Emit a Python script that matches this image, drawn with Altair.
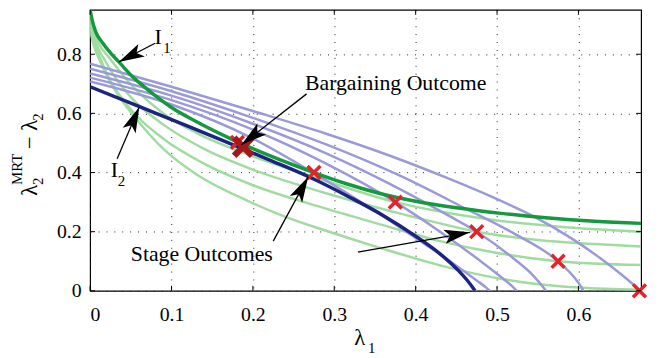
import math
import altair as alt
import pandas as pd

# ---------------- axes ----------------
x_ticks = [0, 0.1, 0.2, 0.3, 0.4, 0.5, 0.6]
y_ticks = [0, 0.2, 0.4, 0.6, 0.8]
X_MAX = 0.677
Y_MAX = 0.95
W, H = 557, 284
SX, SY = W / X_MAX, H / Y_MAX

# ---------------- curves ----------------
# I1 : thick green indifference curve
i1_x = [0, 0.003, 0.007, 0.015, 0.025, 0.035, 0.05, 0.063, 0.08, 0.1, 0.132, 0.173, 0.22, 0.27, 0.315, 0.355, 0.4, 0.45, 0.505, 0.56, 0.62, 0.677]
i1_y = [0.95, 0.91, 0.875, 0.84, 0.805, 0.775, 0.73, 0.698, 0.66, 0.62, 0.57, 0.514, 0.458, 0.405, 0.362, 0.33, 0.303, 0.281, 0.262, 0.247, 0.235, 0.228]

# light green curves
ga_x = [0, 0.005, 0.012, 0.023, 0.04, 0.06, 0.09, 0.13, 0.2, 0.275, 0.375, 0.43, 0.5, 0.58, 0.677]
ga_y = [0.93, 0.88, 0.83, 0.79, 0.73, 0.67, 0.6, 0.535, 0.455, 0.385, 0.3, 0.268, 0.238, 0.216, 0.2]
gb_x = [0, 0.004, 0.01, 0.018, 0.03, 0.05, 0.09, 0.14, 0.2, 0.29, 0.38, 0.43, 0.475, 0.55, 0.62, 0.677]
gb_y = [0.915, 0.87, 0.82, 0.78, 0.725, 0.655, 0.562, 0.48, 0.41, 0.33, 0.262, 0.228, 0.2, 0.172, 0.158, 0.15]
gc_x = [0, 0.004, 0.009, 0.015, 0.025, 0.045, 0.09, 0.14, 0.2, 0.29, 0.36, 0.43, 0.5, 0.575, 0.677]
gc_y = [0.9, 0.855, 0.81, 0.77, 0.71, 0.63, 0.514, 0.43, 0.357, 0.278, 0.222, 0.168, 0.128, 0.1, 0.087]
gd_x = [0, 0.003, 0.007, 0.011, 0.02, 0.035, 0.06, 0.09, 0.13, 0.193, 0.24, 0.29, 0.36, 0.436, 0.5, 0.546, 0.6, 0.677]
gd_y = [0.885, 0.845, 0.81, 0.785, 0.73, 0.66, 0.57, 0.48, 0.395, 0.305, 0.25, 0.203, 0.142, 0.082, 0.043, 0.024, 0.011, 0.004]

# light blue frontiers
b1_x = [0, 0.1, 0.2, 0.275, 0.35, 0.41, 0.45, 0.475, 0.487, 0.491]
b1_y = [0.708, 0.63, 0.515, 0.398, 0.27, 0.16, 0.085, 0.035, 0.01, 0]
b2_x = [0, 0.1, 0.2, 0.29, 0.375, 0.43, 0.48, 0.508, 0.52, 0.524]
b2_y = [0.721, 0.645, 0.545, 0.43, 0.3, 0.2, 0.1, 0.04, 0.012, 0]
b3_x = [0, 0.1, 0.2, 0.29, 0.38, 0.44, 0.475, 0.52, 0.545, 0.556, 0.56]
b3_y = [0.735, 0.66, 0.565, 0.465, 0.345, 0.255, 0.2, 0.11, 0.05, 0.015, 0]
b4_x = [0, 0.1, 0.2, 0.29, 0.38, 0.46, 0.52, 0.575, 0.595, 0.603, 0.606]
b4_y = [0.751, 0.675, 0.585, 0.495, 0.39, 0.28, 0.195, 0.1, 0.045, 0.015, 0]
b5_x = [0, 0.1, 0.2, 0.29, 0.37, 0.44, 0.5, 0.546, 0.59, 0.627, 0.655, 0.67, 0.676]
b5_y = [0.768, 0.69, 0.608, 0.531, 0.455, 0.38, 0.31, 0.25, 0.18, 0.11, 0.05, 0.015, 0]

# I2 : dark blue frontier
i2_x = [0, 0.063, 0.12, 0.173, 0.22, 0.27, 0.32, 0.36, 0.4, 0.43, 0.452, 0.465, 0.471, 0.473]
i2_y = [0.69, 0.62, 0.557, 0.497, 0.443, 0.384, 0.315, 0.255, 0.185, 0.125, 0.07, 0.03, 0.008, 0]

# outcomes
stage_x = [0.181, 0.275, 0.375, 0.475, 0.575, 0.675]
stage_y = [0.502, 0.4, 0.3, 0.2, 0.1, 0.0]
barg_x = [0.188]
barg_y = [0.487]

# annotations
ann_text = ["Bargaining Outcome", "Stage Outcomes", "I", "I"]
ann_x = [0.264, 0.05, 0.079, 0.0255]
ann_y = [0.679, 0.1, 0.833, 0.385]
sub_text = ["1", "2"]
sub_x = [0.09, 0.034]
sub_y = [0.803, 0.355]

arrow_x0 = [0.0798, 0.0332, 0.266, 0.225, 0.329]
arrow_y0 = [0.837, 0.447, 0.666, 0.168, 0.131]
arrow_x1 = [0.0352, 0.0604, 0.186, 0.268, 0.4666]
arrow_y1 = [0.7736, 0.622, 0.494, 0.386, 0.198]

FONT = "Liberation Serif"


def curves_df(pairs):
    rows = []
    for name, xs, ys in pairs:
        for i, (a, b) in enumerate(zip(xs, ys)):
            rows.append({"curve": name, "ord": i, "x": a, "y": b})
    return pd.DataFrame(rows)


lg_df = curves_df([("ga", ga_x, ga_y), ("gb", gb_x, gb_y), ("gc", gc_x, gc_y), ("gd", gd_x, gd_y)])
lb_df = curves_df([("b1", b1_x, b1_y), ("b2", b2_x, b2_y), ("b3", b3_x, b3_y), ("b4", b4_x, b4_y), ("b5", b5_x, b5_y)])
i2_df = curves_df([("i2", i2_x, i2_y)])
i1_df = curves_df([("i1", i1_x, i1_y)])

xs = alt.Scale(domain=[0, X_MAX], nice=False, zero=False)
ys = alt.Scale(domain=[0, Y_MAX], nice=False, zero=False)
label_expr = "datum.value == 0 ? '0' : format(datum.value, '.1f')"
X = alt.X("x:Q", scale=xs, title=None,
          axis=alt.Axis(values=x_ticks, grid=True, labelExpr=label_expr, labelPadding=14, labelBaseline="top",
                        labelFont=FONT, labelFontSize=20, labelColor="black"))
Y = alt.Y("y:Q", scale=ys, title=None,
          axis=alt.Axis(values=y_ticks, grid=True, labelExpr=label_expr, labelPadding=9,
                        labelFont=FONT, labelFontSize=20, labelColor="black"))


def line_layer(df, color, width):
    return alt.Chart(df).mark_line(interpolate="monotone", clip=True, color=color, strokeWidth=width).encode(
        x=X, y=Y, detail="curve:N", order="ord:Q")


layers = [
    line_layer(lg_df, "#a0dca0", 2.5),
    line_layer(lb_df, "#9a9ad8", 2.5),
    line_layer(i2_df, "#1c2382", 3.5),
    line_layer(i1_df, "#14993f", 3.5),
]

X_PATH = "M-1,-1L1,1M1,-1L-1,1"
stage_df = pd.DataFrame({"x": stage_x, "y": stage_y})
layers.append(alt.Chart(stage_df).mark_point(shape=X_PATH, filled=False, color="#e8202a", strokeWidth=3.5,
                                             size=170, opacity=1).encode(x=X, y=Y))
barg_df = pd.DataFrame({"x": barg_x, "y": barg_y})
layers.append(alt.Chart(barg_df).mark_point(shape=X_PATH, filled=False, color="#a3171d", strokeWidth=6.5,
                                            size=330, opacity=1).encode(x=X, y=Y))

# arrows
ang = []
for a0, b0, a1, b1 in zip(arrow_x0, arrow_y0, arrow_x1, arrow_y1):
    dx = (a1 - a0) * SX
    dy = -(b1 - b0) * SY
    ang.append(math.degrees(math.atan2(dx, -dy)) % 360)
arrow_df = pd.DataFrame({"x": arrow_x0, "y": arrow_y0, "x2": arrow_x1, "y2": arrow_y1})
layers.append(alt.Chart(arrow_df).mark_rule(color="black", strokeWidth=1.3).encode(
    x=X, y=Y, x2="x2:Q", y2="y2:Q"))
head_df = pd.DataFrame({"x": arrow_x1, "y": arrow_y1, "angle": ang})
HEAD = "M0,0L0.55,2L0,1.55L-0.55,2Z"
layers.append(alt.Chart(head_df).mark_point(shape=HEAD, filled=True, color="black", opacity=1,
                                            strokeWidth=0, size=676).encode(
    x=X, y=Y, angle=alt.Angle("angle:Q", scale=None)))

# annotation texts
ann_df = pd.DataFrame({"x": ann_x, "y": ann_y, "t": ann_text})
layers.append(alt.Chart(ann_df).mark_text(font=FONT, fontSize=22, align="left", baseline="alphabetic",
                                          color="black").encode(x=X, y=Y, text="t:N"))
sub_df = pd.DataFrame({"x": sub_x, "y": sub_y, "t": sub_text})
layers.append(alt.Chart(sub_df).mark_text(font=FONT, fontSize=15, align="left", baseline="alphabetic",
                                          color="black").encode(x=X, y=Y, text="t:N"))

# inward ticks (MATLAB style)
xt_df = pd.DataFrame({"x": x_ticks})
yt_df = pd.DataFrame({"y": y_ticks})
layers.append(alt.Chart(xt_df).mark_rule(color="black", strokeWidth=1).encode(x=X, y=alt.value(H), y2=alt.value(H - 5)))
layers.append(alt.Chart(xt_df).mark_rule(color="black", strokeWidth=1).encode(x=X, y=alt.value(0), y2=alt.value(5)))
layers.append(alt.Chart(yt_df).mark_rule(color="black", strokeWidth=1).encode(y=Y, x=alt.value(0), x2=alt.value(5)))
layers.append(alt.Chart(yt_df).mark_rule(color="black", strokeWidth=1).encode(y=Y, x=alt.value(W), x2=alt.value(W - 5)))


# axis titles built from pieces (sub/superscripts)
def txt(t, px, py, size, angle=0):
    return alt.Chart(pd.DataFrame({"t": [t]})).mark_text(
        font=FONT, fontSize=size, align="left", baseline="alphabetic", color="black", angle=angle
    ).encode(x=alt.value(px), y=alt.value(py), text="t:N")


layers += [
    txt("λ", 267, 339, 23),
    txt("1", 281, 347, 15),
    txt("λ", -54, 188, 23, 270),
    txt("2", -48, 177, 15, 270),
    txt("MRT", -69, 177, 15, 270),
    txt("− λ", -54, 141, 23, 270),
    txt("2", -48, 112, 15, 270),
]

chart = alt.layer(*layers).properties(
    width=W, height=H,
    padding={"left": 83, "top": 0, "right": 10, "bottom": 66},
    autosize=alt.AutoSizeParams(type="none"),
).configure_view(stroke="black", strokeWidth=1.2).configure_axis(
    domain=False, ticks=False, tickSize=0, labelFont=FONT, labelFontSize=20, labelColor="black",
    gridColor="#222222", gridDash=[1, 7], gridWidth=1, gridOpacity=1,
)

chart.save("out.html", embed_options={"renderer": "svg", "actions": False})
